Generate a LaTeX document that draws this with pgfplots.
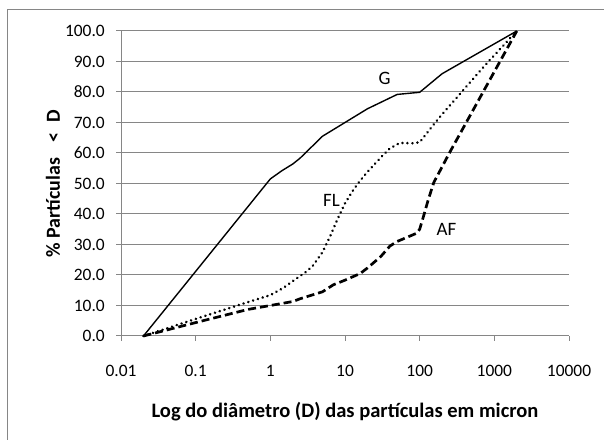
\documentclass[border=0pt]{standalone}
\usepackage{fontspec}
\setmainfont{Carlito}
\usepackage{pgfplots}
\pgfplotsset{compat=1.18}
\usepackage{pgfplotstable}
\definecolor{gridgray}{RGB}{134,134,134}
\definecolor{framegray}{RGB}{134,134,134}

\pgfplotstableread{
x y
0.02 0
1 51.5
1.43 54.2
2 56.4
2.5 58.3
5 65.5
10 70
20 74.5
50 79.2
100 79.9
200 86
2000 100
}\Gdata

\pgfplotstableread{
x y
0.02 0
0.1 5.6
0.5 11.1
1 13.4
1.5 15.8
2 18
3 21
3.7 23
5 27.5
6.3 32.6
8 38.5
10 43.5
13 48
16 51
20 53.8
30 58.5
40 61.5
54 63.3
80 63.2
100 63.5
150 69
205 73
430 82
800 89.5
2000 100
}\FLdata

\pgfplotstableread{
x y
0.02 0
0.1 4.4
0.5 8.7
1 10
2 11.3
2.5 12.2
5 14.5
7 16.8
10 18.3
16 20.5
20 22.3
30 26
40 29.5
50 31
70 32.5
91 33.7
100 35
115 40
130 44.6
155 50.4
200 55.5
250 60
2000 100
}\AFdata

\begin{document}
\begin{tikzpicture}[x=1bp,y=1bp]
\useasboundingbox (0,0) rectangle (604,440);
\clip (0,0) rectangle (604,440);
\draw[framegray, line width=0.9bp] (7,-20) -- (7,431) -- (630,431);
\begin{axis}[
  at={(121bp,104bp)}, anchor=south west,
  scale only axis, width=448bp, height=305bp,
  xmode=log, xmin=0.01, xmax=10000,
  ymin=0, ymax=100,
  xtick={0.01,0.1,1,10,100,1000,10000},
  xticklabels={0.01,0.1,1,10,100,1000,10000},
  xminorticks=false,
  ytick={0,10,...,100},
  axis x line*=bottom, axis y line*=left,
  axis line style={gridgray, line width=1bp},
  tick style={gridgray, line width=1bp},
  major tick length=5bp,
  tick align=outside,
  ymajorgrids,
  grid style={gridgray, line width=1bp},
  /pgf/number format/assume math mode=true,
  yticklabel={\pgfmathprintnumber[fixed,fixed zerofill,precision=1]{\tick}},
  tick label style={font=\fontsize{17.5}{20}\selectfont, inner sep=0pt},
  yticklabel style={anchor=east, xshift=-16bp+5bp},
  xticklabel style={anchor=base, yshift=-41bp+5bp},
  every axis x label/.style={at={(axis description cs:0.5,0)}, anchor=base, yshift=-82bp, font=\fontsize{20.6}{24}\selectfont\bfseries},
  every axis y label/.style={at={(axis description cs:0,0.5)}, xshift=-68bp, yshift=0bp, rotate=90, anchor=center, font=\fontsize{20}{24}\selectfont\bfseries},
  xlabel={Log do diâmetro (D) das partículas em micron},
  ylabel={\%~Partículas\hspace{0.75em}<\hspace{0.55em}D},
  clip=false,
]
\addplot[black, line width=1.4bp, line join=round] table[x=x,y=y] {\Gdata};
\addplot[black, line width=2.8bp, line cap=round, line join=round, dash pattern=on 0.01bp off 5bp] table[x=x,y=y] {\FLdata};
\addplot[black, line width=2.7bp, line join=round, dash pattern=on 8bp off 4bp] table[x=x,y=y] {\AFdata};
\node[font=\fontsize{19}{22}\selectfont] at (axis cs:34,84.3) {G};
\node[font=\fontsize{19}{22}\selectfont] at (axis cs:6.6,44.6) {FL};
\node[font=\fontsize{19}{22}\selectfont] at (axis cs:229,34.8) {AF};
\end{axis}
\end{tikzpicture}
\end{document}
